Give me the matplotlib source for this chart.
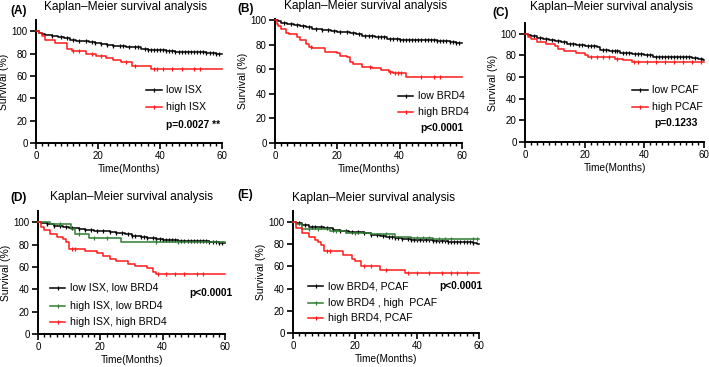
import numpy as np
import matplotlib
matplotlib.use("Agg")
import matplotlib.pyplot as plt
from matplotlib.ticker import MultipleLocator
from matplotlib.lines import Line2D

plt.rcParams['font.family'] = ['Liberation Sans', 'DejaVu Sans']

RED = '#ff1a1a'
GREEN = '#2e7d32'
BLACK = '#000000'
T_END = 60

# ---------------- data (step change points, survival %, censor times) -----
A_low_t = [0, 1, 2, 3, 5, 7, 9, 11, 13, 15, 17, 19, 21, 23, 25, 27, 29, 31, 34, 36, 39, 42, 45, 50, 55, 58]
A_low_s = [100, 98.5, 97.5, 96.5, 95.5, 94.5, 93.5, 92.5, 91.5, 91, 90, 89, 88.5, 88, 87, 86.5, 86, 85.5, 84.5, 83.5, 83, 82, 81.5, 81, 80.5, 79.5]
A_low_c = [5, 8, 10, 12, 14, 16, 18, 19, 21, 23, 25, 27, 28, 30, 32, 33, 35, 36, 37, 38, 39, 40, 41, 42, 43, 44, 45,
           46, 47, 48, 49, 50, 51, 52, 53, 54, 55, 56, 57, 58, 59]
A_high_t = [0, 1, 2, 3, 6, 10, 11.5, 16, 19.5, 22.5, 25, 27.5, 31, 37]
A_high_s = [100, 98, 96, 92, 89.5, 84, 82, 80, 77.5, 76, 74, 72, 69, 66]
A_high_c = [12, 14, 18, 21, 29, 32, 38, 39, 41, 44, 47, 51, 53]

B_low_t = [0, 1, 2, 4, 6, 8, 10, 12, 15, 18, 20, 24, 26, 28, 32, 36, 40, 48, 52, 56, 58]
B_low_s = [100, 99, 98, 97, 96, 95, 94.5, 93, 92, 91, 90.5, 89.7, 88.5, 87, 86, 85, 84, 83.5, 83, 82, 81.5]
B_low_c = [3, 5, 7, 9, 11, 13, 15, 17, 19, 21, 23, 25, 27, 29, 30, 31, 33, 34, 35, 37, 38, 39, 40, 41, 42, 43, 44,
           45, 46, 47, 48, 49, 50, 51, 52, 53, 54, 55, 56, 57, 58, 59]
B_high_t = [0, 0.5, 1, 2, 3.5, 4.5, 7, 8, 10, 11, 12, 16, 20, 21, 23, 24, 25, 28, 31, 34, 36.5, 38, 42]
B_high_s = [100, 97, 95, 92.5, 90, 88.5, 86.5, 84, 81, 78, 77, 74, 73, 71, 70, 66, 64, 62, 61, 59.5, 58, 57, 54]
B_high_c = [11.5, 30.5, 37, 38.5, 39.5, 40.5, 47, 51, 53]

C_low_t = [0, 1, 2, 4, 6, 8, 10, 12, 14, 17, 20, 24, 25, 28, 32, 36, 40, 43, 56, 58, 59.5]
C_low_s = [100, 99, 98, 96.5, 95.5, 94.5, 93.5, 92, 91, 90, 88.6, 88, 85.5, 84, 82.7, 81.8, 80, 78.7, 78, 77, 76]
C_low_c = [3, 5, 7, 9, 11, 13, 15, 16, 18, 19, 21, 22, 23, 26, 27, 29, 30, 31, 33, 34, 35, 37, 38, 39, 41, 42, 44,
           45, 46, 47, 48, 49, 50, 51, 52, 53, 54, 55, 57, 59]
C_high_t = [0, 1, 2, 4, 7, 10, 11, 13, 17, 20, 21, 30, 33, 36]
C_high_s = [100, 97, 95, 92.5, 90.4, 88.6, 86, 84, 82.7, 80, 79, 77, 75.6, 74]
C_high_c = [22, 24, 26, 28, 31, 36.5, 38, 41, 44, 47, 50, 53, 56, 59]

D_ll_t = [0, 1, 3, 5, 8, 10, 13, 15, 18, 20, 23, 25, 28, 30, 33, 35, 38, 40, 45, 50, 55, 58]
D_ll_s = [100, 99, 98, 97, 96, 95, 94, 93, 92.5, 92, 91, 90, 89, 87.6, 87, 86, 85, 84, 83.5, 83, 82, 81]
D_ll_c = [3, 5, 7, 9, 11, 13, 15, 17, 19, 21, 23, 25, 27, 29, 30, 31, 33, 34, 35, 37, 38, 39, 40, 41, 42, 43, 44,
          45, 46, 47, 48, 49, 50, 51, 52, 53, 54, 55, 56, 57, 58, 59]
D_hl_t = [0, 4, 10.5, 12, 16.5, 26.5]
D_hl_s = [100, 98, 94, 89, 86, 82]
D_hl_c = [7, 13, 18, 22, 38, 45]
D_hh_t = [0, 1, 2, 4, 6, 8, 9, 10, 15, 19, 21, 23, 25, 29, 31, 35, 37, 38]
D_hh_s = [100, 95.6, 92.6, 89.6, 86.7, 85, 82, 76.3, 74, 72, 69.5, 67.5, 65, 63, 60.6, 58.6, 55.6, 54]
D_hh_c = [11, 12, 38.5, 41, 44, 47, 51, 53]

E_ll_t = [0, 1, 3, 5, 8, 10, 13, 15, 18, 20, 23, 25, 28, 30, 33, 35, 38, 40, 45, 50, 55, 58, 59.5]
E_ll_s = [100, 99, 97.5, 96, 95.3, 94.7, 93, 92.3, 91.5, 91, 90, 88.8, 87.5, 86.4, 85.5, 85, 84.2, 83.7, 82.8, 82, 82, 81, 80]
E_ll_c = [2, 4, 6, 7, 9, 11, 13, 15, 17, 19, 21, 23, 25, 27, 29, 31, 32, 33, 34, 35, 37, 38, 39, 40, 41, 42, 43, 44,
          45, 46, 47, 48, 49, 50, 51, 52, 53, 54, 55, 56, 57, 58]
E_lh_t = [0, 1, 3, 12, 17, 25, 33, 38, 45]
E_lh_s = [100, 98, 94, 92, 90, 89, 87, 85.8, 85]
E_lh_c = [5, 8, 14, 20, 30, 40, 42, 44, 47, 49, 51, 58, 59.5]
E_hh_t = [0, 1, 3, 5, 7, 8, 9, 10, 16, 19, 20, 22, 28, 36]
E_hh_s = [100, 95, 90, 87, 84, 82, 79, 74, 70, 67, 64.5, 60, 57, 54]
E_hh_c = [11, 12, 23, 25, 30, 37, 40, 44, 48, 51, 53, 56]

panels = [
    dict(tag='(A)', series=[('low ISX', A_low_t, A_low_s, A_low_c, BLACK),
                            ('high ISX', A_high_t, A_high_s, A_high_c, RED)],
         p='p=0.0027 **'),
    dict(tag='(B)', series=[('low BRD4', B_low_t, B_low_s, B_low_c, BLACK),
                            ('high BRD4', B_high_t, B_high_s, B_high_c, RED)],
         p='p<0.0001'),
    dict(tag='(C)', series=[('low PCAF', C_low_t, C_low_s, C_low_c, BLACK),
                            ('high PCAF', C_high_t, C_high_s, C_high_c, RED)],
         p='p=0.1233'),
    dict(tag='(D)', series=[('low ISX, low BRD4', D_ll_t, D_ll_s, D_ll_c, BLACK),
                            ('high ISX, low BRD4', D_hl_t, D_hl_s, D_hl_c, GREEN),
                            ('high ISX, high BRD4', D_hh_t, D_hh_s, D_hh_c, RED)],
         p='p<0.0001'),
    dict(tag='(E)', series=[('low BRD4, PCAF', E_ll_t, E_ll_s, E_ll_c, BLACK),
                            ('low BRD4 , high  PCAF', E_lh_t, E_lh_s, E_lh_c, GREEN),
                            ('high BRD4, PCAF', E_hh_t, E_hh_s, E_hh_c, RED)],
         p='p<0.0001'),
]

# ---------------- layout (pixels) ----------------
W, H = 709, 367
fig = plt.figure(figsize=(W / 100, H / 100), dpi=100)

# axes boxes: left, right, top(px of ymax), bottom(px of y=0), ymax
boxes = [(36, 222, 20, 143, 110), (275, 462, 19, 143, 101), (525, 704, 23, 142, 110),
         (38, 225, 211, 334, 110), (293, 479, 211, 333, 110)]
# titles: center x, y ; tag x, y
titles = [(126, 7, 10, 11), (365, 6, 237, 9), (612, 7, 492, 13), (131, 197, 10, 198), (374, 198, 237, 195)]
# legend: line start frac x, text frac x, row y fracs, p (x, y)
legends = [
    (0.59, 0.70, [0.43, 0.29], (0.70, 0.146)),
    (0.66, 0.765, [0.38, 0.25], (0.775, 0.122)),
    (0.60, 0.71, [0.437, 0.294], (0.72, 0.16)),
    (0.064, 0.171, [0.374, 0.228, 0.098], (0.807, 0.333)),
    (0.08, 0.188, [0.385, 0.246, 0.123], (0.785, 0.385)),
]

for pan, box, tt, lg in zip(panels, boxes, titles, legends):
    l, r, t, b, ymax = box
    ax = fig.add_axes([l / W, (H - b) / H, (r - l) / W, (b - t) / H])
    for lab, ts, ss, cs, col in pan['series']:
        tx = list(ts) + [T_END]
        sx = list(ss) + [ss[-1]]
        ax.step(tx, sx, where='post', color=col, lw=1.1, clip_on=False, zorder=3)
        ta = np.asarray(ts)
        idx = np.searchsorted(ta, np.asarray(cs), side='right') - 1
        cy = np.asarray(ss)[idx]
        ax.plot(cs, cy, ls='none', marker='|', ms=3.5, mew=0.9, color=col, clip_on=False, zorder=3)
    ax.set_xlim(0, 60)
    ax.set_ylim(0, ymax)
    ax.set_xticks([0, 20, 40, 60])
    ax.set_yticks([0, 20, 40, 60, 80, 100])
    ax.xaxis.set_minor_locator(MultipleLocator(2))
    for s in ['top', 'right']:
        ax.spines[s].set_visible(False)
    for s in ['left', 'bottom']:
        ax.spines[s].set_linewidth(1.4)
    ax.tick_params(axis='both', which='major', direction='out', length=4, width=1.2, labelsize=7, pad=2)
    ax.tick_params(axis='x', which='minor', direction='out', length=2.5, width=1.0)
    ax.set_xlabel('Time(Months)', fontsize=7.3, labelpad=2)
    ax.set_ylabel('Survival (%)', fontsize=7.5, labelpad=2)
    ax.patch.set_alpha(0)

    # legend
    x0, xt, rows, (px, py) = lg
    for (lab, ts, ss, cs, col), yy in zip(pan['series'], rows):
        ln = Line2D([x0, xt - 0.025], [yy, yy], transform=ax.transAxes, color=col, lw=1.1)
        ax.add_line(ln)
        ax.plot([(x0 + xt - 0.025) / 2], [yy], transform=ax.transAxes, marker='|', ms=3.5, mew=0.9,
                color=col, clip_on=False)
        ax.text(xt, yy, lab, transform=ax.transAxes, fontsize=7.6, va='center', ha='left')
    ax.text(px, py, pan['p'], transform=ax.transAxes, fontsize=7.4, fontweight='bold', va='center', ha='left')

    cx, cy_, tgx, tgy = tt
    fig.text(cx / W, 1 - cy_ / H, 'Kaplan\u2013Meier survival analysis', fontsize=8.6, ha='center', va='center')
    fig.text(tgx / W, 1 - tgy / H, pan['tag'], fontsize=8.5, fontweight='bold', ha='left', va='center')

fig.savefig('out.png', dpi=100)
